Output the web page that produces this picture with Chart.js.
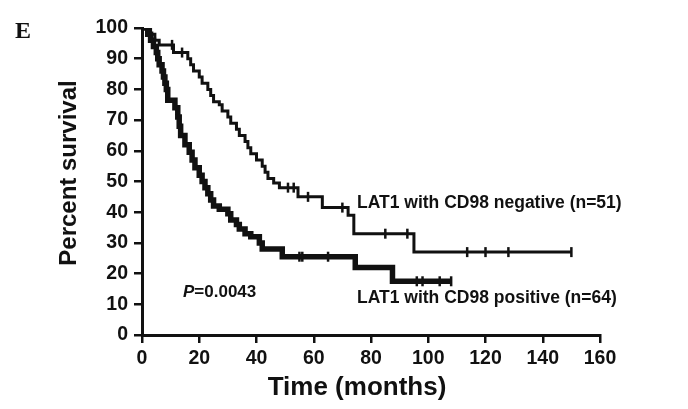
<!DOCTYPE html>
<html>
<head>
<meta charset="utf-8">
<script src="https://cdn.jsdelivr.net/npm/chart.js@4/dist/chart.umd.min.js"></script>
<style>
  html, body { margin: 0; padding: 0; background: #fff; }
  #wrap { width: 688px; height: 409px; position: relative; }
</style>
</head>
<body>
<div id="wrap"><canvas id="c" width="688" height="409"></canvas></div>
<script>
// Kaplan-Meier step data: event times (months) and survival (%) after each step
const negTimes  = [0, 3, 4.5, 6, 11, 16, 17, 18, 20, 21, 23, 24, 25, 27, 28, 30, 31, 33, 34, 36, 37, 38, 40, 42, 43, 44, 46, 48, 54.5, 63, 72, 74, 95, 150];
const negSurv   = [100, 98, 96, 94.5, 92, 90, 88, 86, 84, 82, 80, 78, 76, 75, 73, 71, 69, 67, 65, 63, 61, 59, 57, 55, 53, 51, 49.5, 48, 45, 41.5, 39, 33, 27, 27];
const negCensor = [10.5, 14, 51, 53, 58, 70, 85, 92.7, 113.6, 120, 128, 150];

const posTimes  = [0, 2, 3, 4, 5, 5.5, 6, 7, 7.5, 8, 8.5, 9, 11.5, 12.5, 13, 13.5, 15, 16.5, 17.5, 18.5, 20, 21, 22, 23, 24, 25, 27, 30, 31, 33, 34, 36, 38, 41, 42, 49, 74.5, 87.5, 108];
const posSurv   = [100, 98, 96, 94, 92, 90, 88, 86, 84, 82, 80, 76.5, 74, 71, 68, 65, 62, 59.5, 57, 54.5, 52, 50, 48, 46, 44, 42, 41, 39.5, 37.5, 36, 34.5, 33, 32, 30, 28, 25.5, 22, 17.5, 17.5];
const posCensor = [55, 56, 65, 96, 98, 104, 108];

const xTicks = [0, 20, 40, 60, 80, 100, 120, 140, 160];
const yTicks = [0, 10, 20, 30, 40, 50, 60, 70, 80, 90, 100];

function pts(xs, ys) { return xs.map((x, i) => ({ x: x, y: ys[i] })); }
function survAt(times, surv, t) {
  let s = surv[0];
  for (let i = 0; i < times.length; i++) { if (times[i] <= t) s = surv[i]; }
  return s;
}
function censorPts(cs, times, surv) { return cs.map(t => ({ x: t, y: survAt(times, surv, t) })); }

const FONT = "'Liberation Sans', Arial, sans-serif";

const textPlugin = {
  id: 'texts',
  afterDraw(chart) {
    const ctx = chart.ctx;
    ctx.save();
    ctx.fillStyle = '#111';
    ctx.textBaseline = 'alphabetic';
    ctx.textAlign = 'left';
    ctx.font = "bold 24px 'Liberation Serif', 'DejaVu Serif', serif";
    ctx.fillText('E', 15, 38);
    ctx.font = 'bold 17.5px ' + FONT;
    ctx.fillText('LAT1 with CD98 negative (n=51)', 357, 208);
    ctx.fillText('LAT1 with CD98 positive (n=64)', 357, 303);
    ctx.font = 'italic bold 17px ' + FONT;
    ctx.fillText('P', 183, 297);
    const pw = ctx.measureText('P').width;
    ctx.font = 'bold 17px ' + FONT;
    ctx.fillText('=0.0043', 183 + pw, 297);
    ctx.font = 'bold 26px ' + FONT;
    ctx.textAlign = 'center';
    ctx.fillText('Time (months)', 357, 395);
    ctx.font = 'bold 24px ' + FONT;
    ctx.translate(69, 173);
    ctx.rotate(-Math.PI / 2);
    ctx.textBaseline = 'middle';
    ctx.fillText('Percent survival', 0, 0);
    ctx.restore();
  }
};

const lineBase = { stepped: 'before', pointRadius: 0, fill: false, borderColor: '#111', borderCapStyle: 'butt', borderJoinStyle: 'miter' };
const tickBase = { type: 'scatter', showLine: false, pointStyle: 'line', rotation: 90, pointRadius: 5, pointBorderColor: '#111', pointBackgroundColor: '#111', borderColor: '#111' };

new Chart(document.getElementById('c'), {
  type: 'line',
  data: {
    datasets: [
      Object.assign({ label: 'LAT1 with CD98 negative (n=51)', data: pts(negTimes, negSurv), borderWidth: 3 }, lineBase),
      Object.assign({ label: 'LAT1 with CD98 positive (n=64)', data: pts(posTimes, posSurv), borderWidth: 5.5 }, lineBase),
      Object.assign({ label: 'neg censored', data: censorPts(negCensor, negTimes, negSurv), pointBorderWidth: 2.5 }, tickBase),
      Object.assign({ label: 'pos censored', data: censorPts(posCensor, posTimes, posSurv), pointBorderWidth: 2.5 }, tickBase)
    ]
  },
  options: {
    responsive: false,
    animation: false,
    devicePixelRatio: 1,
    layout: { padding: { left: 0, top: 28, right: 88, bottom: 0 } },
    plugins: { legend: { display: false }, tooltip: { enabled: false } },
    scales: {
      x: {
        type: 'linear', min: 0, max: 160,
        afterBuildTicks: (s) => { s.ticks = xTicks.map(v => ({ value: v })); },
        afterFit: (s) => { s.height = 74; },
        grid: { display: true, drawOnChartArea: false, drawTicks: true, tickLength: 8, color: '#111', lineWidth: 2.5 },
        border: { display: true, color: '#111', width: 3 },
        ticks: { color: '#111', padding: 4, maxRotation: 0, font: { family: FONT, size: 19.5, weight: 'bold' } }
      },
      y: {
        type: 'linear', min: 0, max: 100,
        afterBuildTicks: (s) => { s.ticks = yTicks.map(v => ({ value: v })); },
        afterFit: (s) => { s.width = 142; },
        grid: { display: true, drawOnChartArea: false, drawTicks: true, tickLength: 8, color: '#111', lineWidth: 2.5 },
        border: { display: true, color: '#111', width: 3 },
        ticks: { color: '#111', padding: 6, font: { family: FONT, size: 19.5, weight: 'bold' } }
      }
    }
  },
  plugins: [textPlugin]
});
</script>
</body>
</html>
